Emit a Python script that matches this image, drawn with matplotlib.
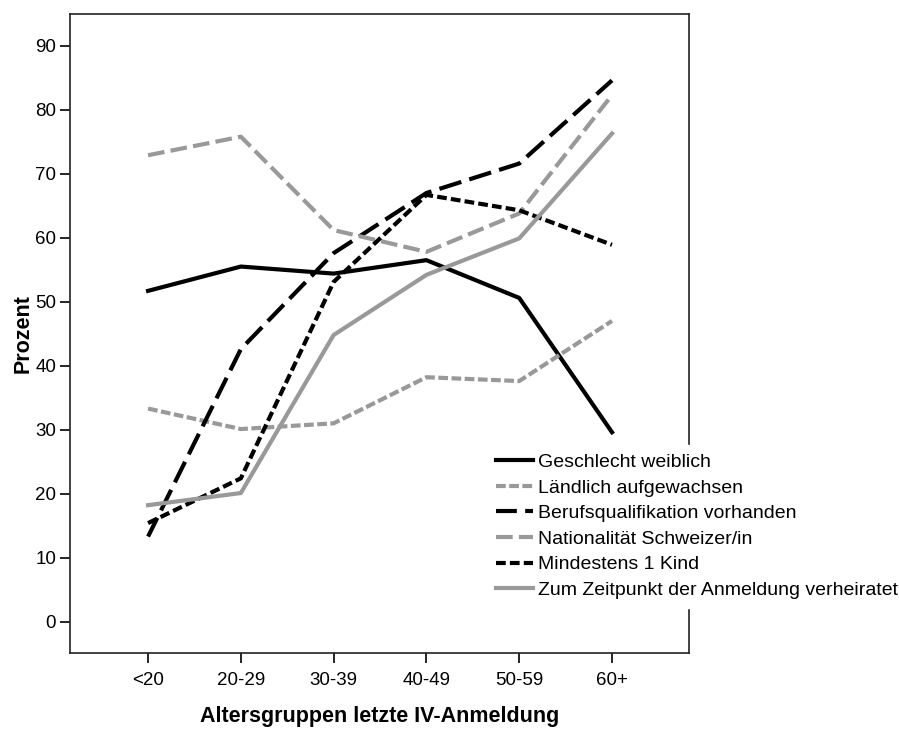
import matplotlib
matplotlib.use("Agg")
import matplotlib.pyplot as plt

plt.rcParams['font.family'] = ['Liberation Sans', 'DejaVu Sans']
plt.rcParams['lines.scale_dashes'] = False

# Data
age_groups = ["<20", "20-29", "30-39", "40-49", "50-59", "60+"]
geschlecht_weiblich = [51.7, 55.5, 54.4, 56.5, 50.6, 29.6]
laendlich = [33.3, 30.1, 31.0, 38.2, 37.6, 47.0]
berufsqualifikation = [13.3, 42.6, 57.6, 67.0, 71.6, 84.6]
nationalitaet_ch = [72.9, 75.8, 61.2, 57.8, 63.8, 82.3]
mind_1_kind = [15.4, 22.4, 53.1, 66.7, 64.3, 58.9]
verheiratet = [18.2, 20.1, 44.8, 54.2, 59.9, 76.3]

black = "#000000"
gray = "#999999"
lw = 3.0

fig = plt.figure(figsize=(8.99, 7.29), dpi=100)
ax = fig.add_axes([0.0779, 0.1043, 0.6880, 0.8767])

x = list(range(len(age_groups)))
ax.plot(x, geschlecht_weiblich, color=black, lw=lw,
        label="Geschlecht weiblich")
ax.plot(x, laendlich, color=gray, lw=lw, dashes=(7, 2.5),
        label="Ländlich aufgewachsen")
ax.plot(x, berufsqualifikation, color=black, lw=lw, dashes=(15, 6, 1.5, 0.01),
        label="Berufsqualifikation vorhanden")
ax.plot(x, nationalitaet_ch, color=gray, lw=lw, dashes=(12, 4.5),
        label="Nationalität Schweizer/in")
ax.plot(x, mind_1_kind, color=black, lw=lw, dashes=(7, 3),
        label="Mindestens 1 Kind")
ax.plot(x, verheiratet, color=gray, lw=lw,
        label="Zum Zeitpunkt der Anmeldung verheiratet")

ax.set_xlim(-0.841, 5.825)
ax.set_ylim(-4.9, 95)
ax.set_xticks(x)
ax.set_xticklabels(age_groups)
ax.set_yticks(range(0, 91, 10))
ax.tick_params(direction="out", length=7, width=1.2, labelsize=13.5, pad=3)
ax.tick_params(axis="x", pad=7)
for s in ax.spines.values():
    s.set_linewidth(1.2)
    s.set_color("#222222")

ax.set_ylabel("Prozent", fontsize=15.5, fontweight="bold", labelpad=1)
ax.set_xlabel("Altersgruppen letzte IV-Anmeldung", fontsize=15.5,
              fontweight="bold", labelpad=12)

leg = fig.legend(loc="upper left", bbox_to_anchor=(0.5425, 0.390),
                 fontsize=14, frameon=True, handlelength=1.9,
                 handletextpad=0.25, labelspacing=0.41, borderpad=0.45,
                 borderaxespad=0)
leg.get_frame().set_edgecolor("white")
leg.get_frame().set_facecolor("white")
leg.get_frame().set_alpha(1)

fig.savefig("out.png", dpi=100)
